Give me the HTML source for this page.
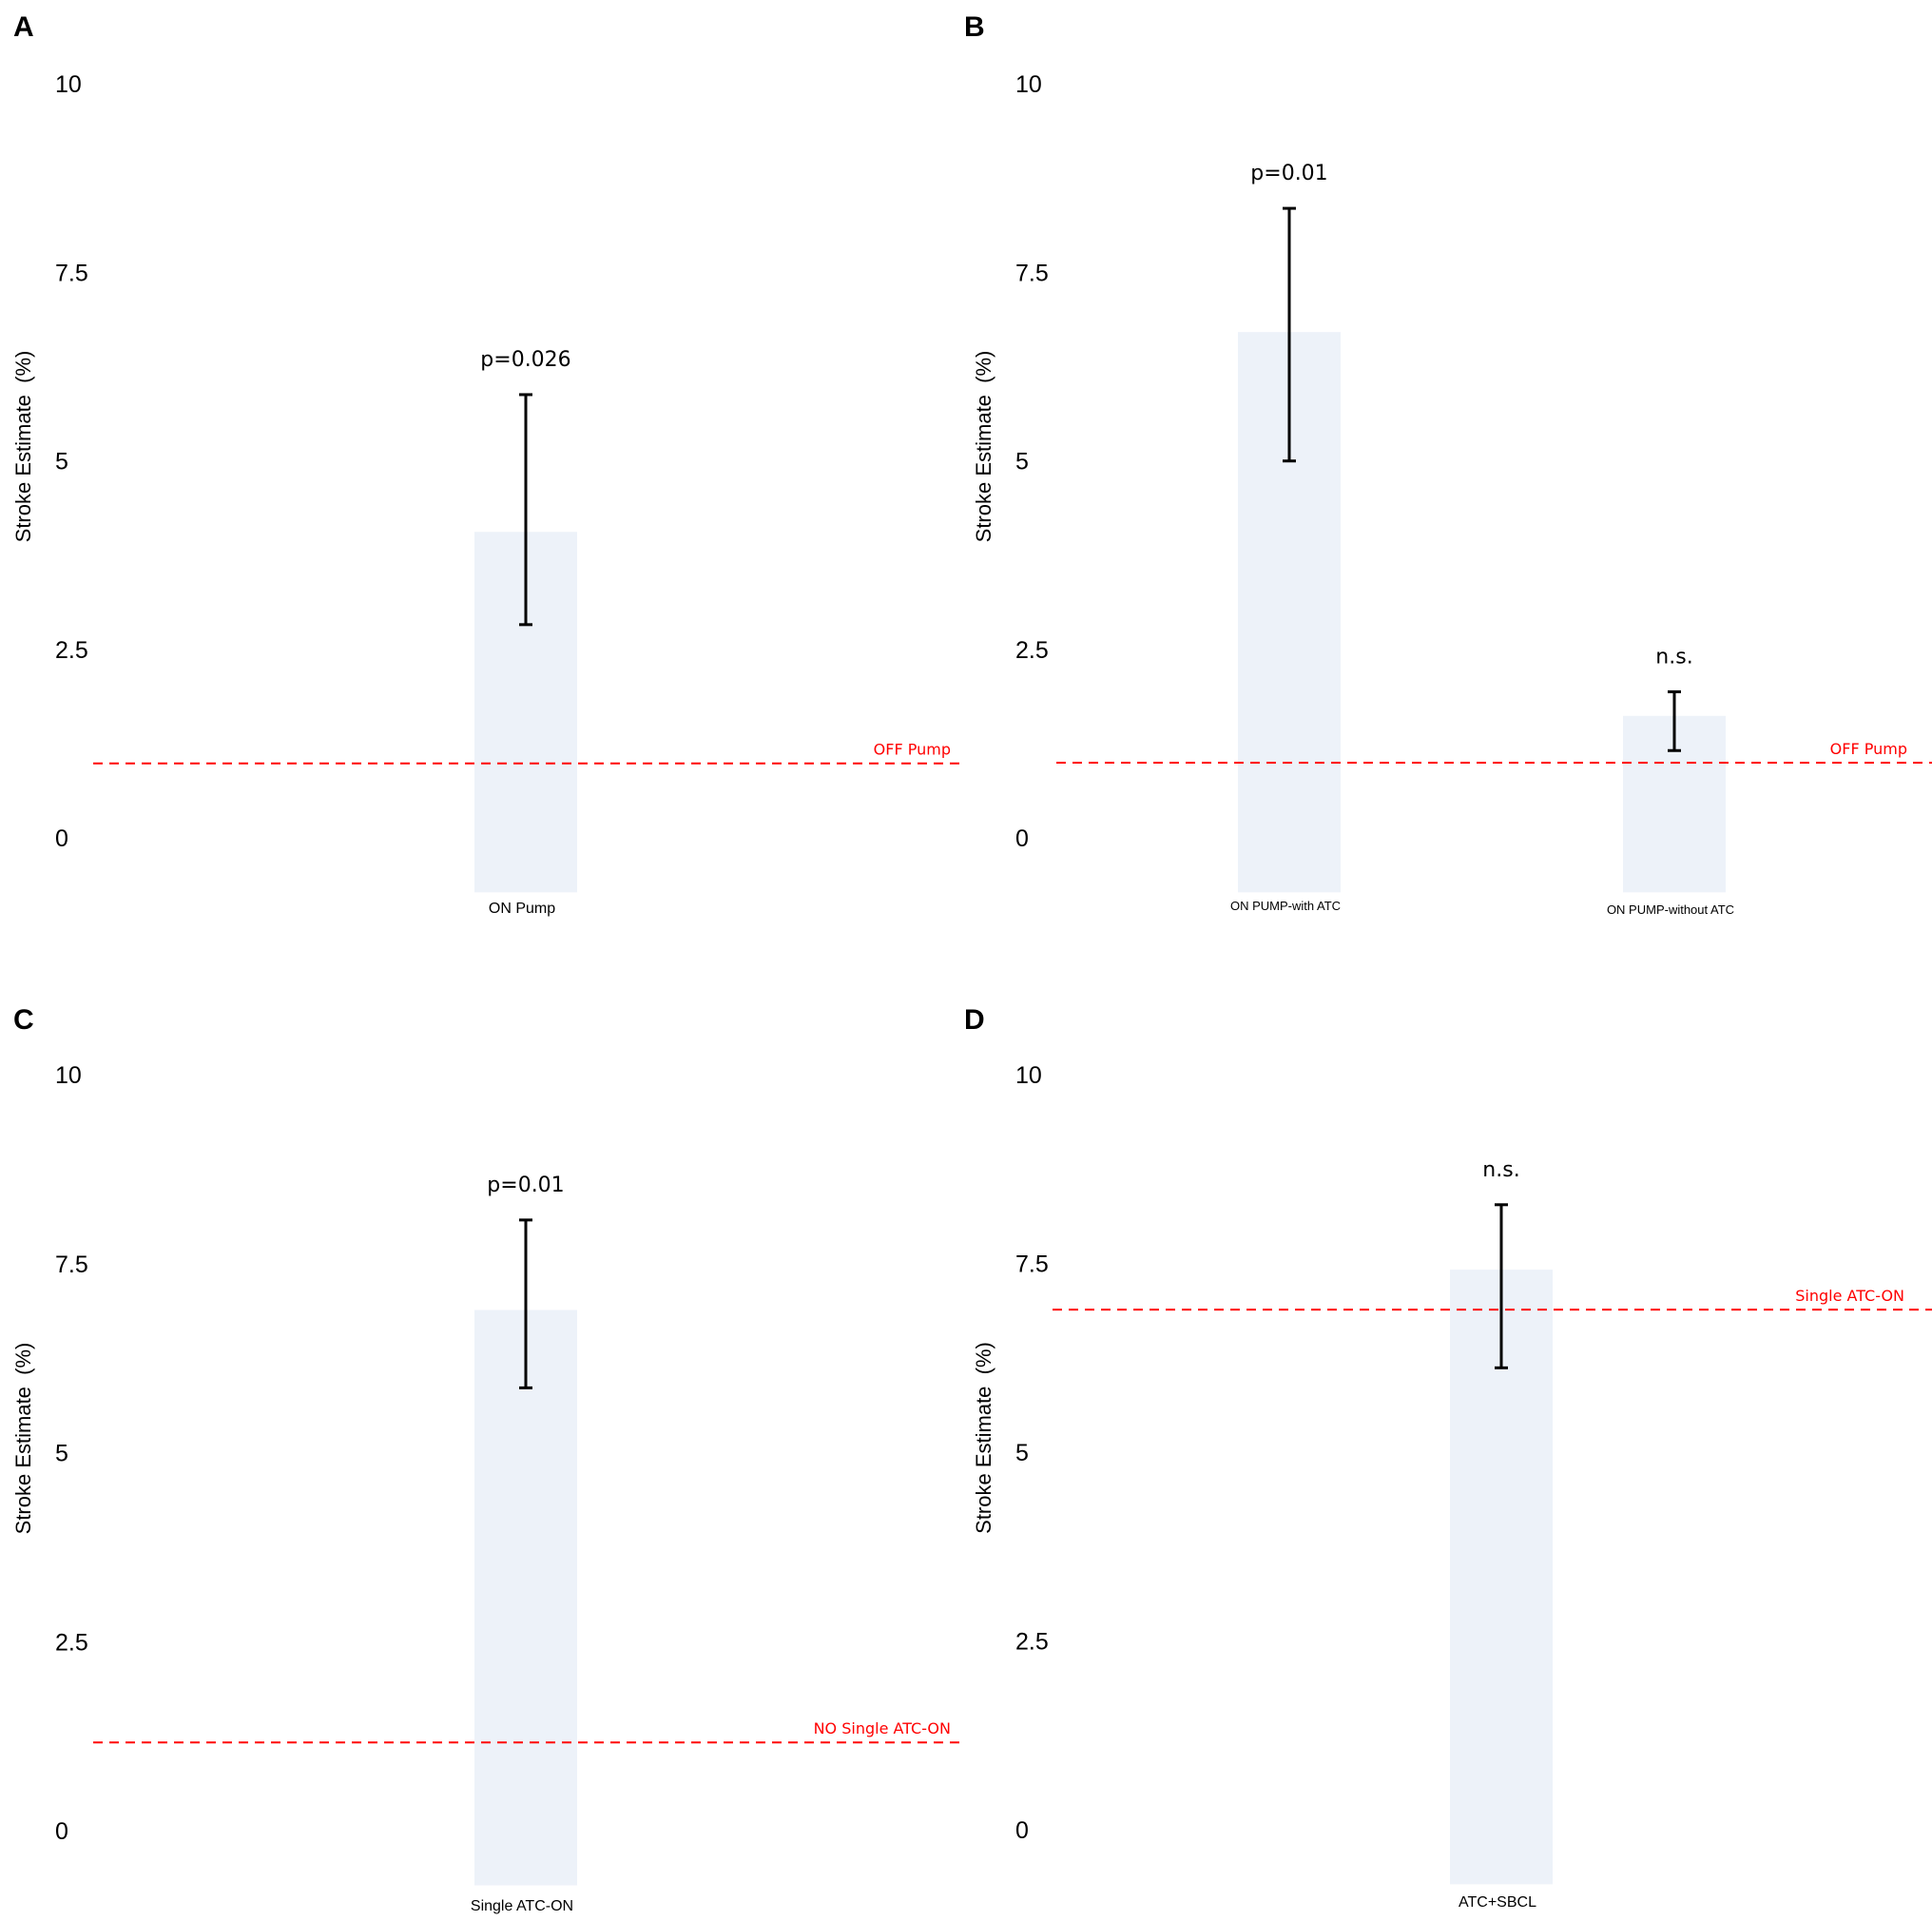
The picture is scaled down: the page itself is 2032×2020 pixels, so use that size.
<!DOCTYPE html>
<html><head><meta charset="utf-8">
<style>
html,body{margin:0;padding:0;background:#fff;}
svg{display:block;}
</style></head>
<body>
<svg id="chart" width="2032" height="2020" viewBox="0 0 2032 2020" xmlns="http://www.w3.org/2000/svg" font-family="Liberation Sans, Arial, sans-serif"></svg>
<script>
// Data arrays (top level)
const panelLetters = ["A", "B", "C", "D"];
const yTicks = [0, 2.5, 5, 7.5, 10];
const yTickLabels = ["0", "2.5", "5", "7.5", "10"];
const catsA = ["ON Pump"];
const valsA = [4.12];
const lowA = [2.89];
const highA = [5.94];
const sigA = ["p=0.026"];
const refA = 1.05;
const refLabelA = "OFF Pump";

const catsB = ["ON PUMP-with ATC", "ON PUMP-without ATC"];
const valsB = [6.77, 1.68];
const lowB = [5.06, 1.22];
const highB = [8.41, 2.0];
const sigB = ["p=0.01", "n.s."];
const refB = 1.06;
const refLabelB = "OFF Pump";

const catsC = ["Single ATC-ON"];
const valsC = [6.95];
const lowC = [5.92];
const highC = [8.14];
const sigC = ["p=0.01"];
const refC = 1.23;
const refLabelC = "NO Single ATC-ON";

const catsD = ["ATC+SBCL"];
const valsD = [7.48];
const lowD = [6.18];
const highD = [8.34];
const sigD = ["n.s."];
const refD = 6.95;
const refLabelD = "Single ATC-ON";

const NS = "http://www.w3.org/2000/svg";
const svg = document.getElementById("chart");
function mk(tag, attrs, parent) {
  const e = document.createElementNS(NS, tag);
  for (const k in attrs) e.setAttribute(k, attrs[k]);
  (parent || svg).appendChild(e);
  return e;
}

// layout per panel (geometry only)
const layouts = [
  {ox:0, y0:886, y10:93, tickX:58, titleX:24, lineX0:98, lineX1:1016, labelRight:1000, letterY:38, catCenters:[553], barW:108, catFont:16, xLabelY:963},
  {ox:1000, y0:886, y10:93, tickX:1068, titleX:1034, lineX0:1111, lineX1:2032, labelRight:2006, letterY:38, catCenters:[1356, 1761], barW:108, catFont:13, xLabelY:960},
  {ox:0, y0:1930, y10:1135, tickX:58, titleX:24, lineX0:98, lineX1:1016, labelRight:1000, letterY:1082, catCenters:[553], barW:108, catFont:16, xLabelY:2012},
  {ox:1000, y0:1929, y10:1135, tickX:1068, titleX:1034, lineX0:1107, lineX1:2032, labelRight:2003, letterY:1082, catCenters:[1579], barW:108, catFont:16, xLabelY:2008}
];
const panelData = [
  {cats:catsA, vals:valsA, low:lowA, high:highA, sig:sigA, ref:refA, refLabel:refLabelA},
  {cats:catsB, vals:valsB, low:lowB, high:highB, sig:sigB, ref:refB, refLabel:refLabelB},
  {cats:catsC, vals:valsC, low:lowC, high:highC, sig:sigC, ref:refC, refLabel:refLabelC},
  {cats:catsD, vals:valsD, low:lowD, high:highD, sig:sigD, ref:refD, refLabel:refLabelD}
];

panelLetters.forEach((letter, pi) => {
  const L = layouts[pi], D = panelData[pi];
  const y = v => L.y0 - (v / 10) * (L.y0 - L.y10);
  const g = mk("g", {});
  
  

  const lt = mk("text", {x: L.ox + 14, y: L.letterY, "font-size": 30, "font-weight": "bold", fill: "#000"}, g);
  lt.textContent = letter;
  
  

  yTicks.forEach((t, i) => {
    const tx = mk("text", {x: L.tickX, y: y(t) + 4, "font-size": 25, fill: "#000"}, g);
    tx.textContent = yTickLabels[i];
    
    
  });

  const yc = (y(0) + y(10)) / 2 - 20;
  const tt = mk("text", {x: L.titleX + 8, y: yc, "font-size": 22, fill: "#000", "text-anchor": "middle", transform: `rotate(-90 ${L.titleX + 8} ${yc})`}, g);
  tt.textContent = "Stroke Estimate\u00a0\u00a0(%)";
  
  

  // bars
  D.cats.forEach((c, i) => {
    const cx = L.catCenters[i];
    const bar = mk("rect", {x: cx - L.barW / 2, y: y(D.vals[i]), width: L.barW, height: y(-0.66) - y(D.vals[i]), fill: "#edf2f9"}, g);
    
    
  });

  // reference line
  const ry = y(D.ref);
  const rl = mk("line", {x1: L.lineX0, x2: L.lineX1, y1: ry, y2: ry, stroke: "#ff0000", "stroke-width": 2, "stroke-dasharray": "10,7"}, g);
  
  
  const rt = mk("text", {x: L.labelRight, y: ry - 9, "font-size": 16, fill: "#ff0000", "text-anchor": "end", "font-family": "DejaVu Sans, sans-serif"}, g);
  rt.textContent = D.refLabel;
  
  

  D.cats.forEach((c, i) => {
    const cx = L.catCenters[i];
    const eg = mk("g", {stroke: "#000", "stroke-width": 3}, g);
    
    
    mk("line", {x1: cx, x2: cx, y1: y(D.high[i]), y2: y(D.low[i])}, eg);
    mk("line", {x1: cx - 7, x2: cx + 7, y1: y(D.high[i]), y2: y(D.high[i])}, eg);
    mk("line", {x1: cx - 7, x2: cx + 7, y1: y(D.low[i]), y2: y(D.low[i])}, eg);

    const st = mk("text", {x: cx, y: y(D.high[i]) - 30, "font-size": 22, fill: "#000", "text-anchor": "middle", "font-family": "DejaVu Sans, sans-serif"}, g);
    st.textContent = D.sig[i];
    
    

    const xl = mk("text", {x: cx - 4, y: L.xLabelY - 3 + (pi === 1 && i === 1 ? 4 : 0), "font-size": L.catFont, fill: "#000", "text-anchor": "middle"}, g);
    xl.textContent = c;
    
    
  });
});
</script>
</body></html>
